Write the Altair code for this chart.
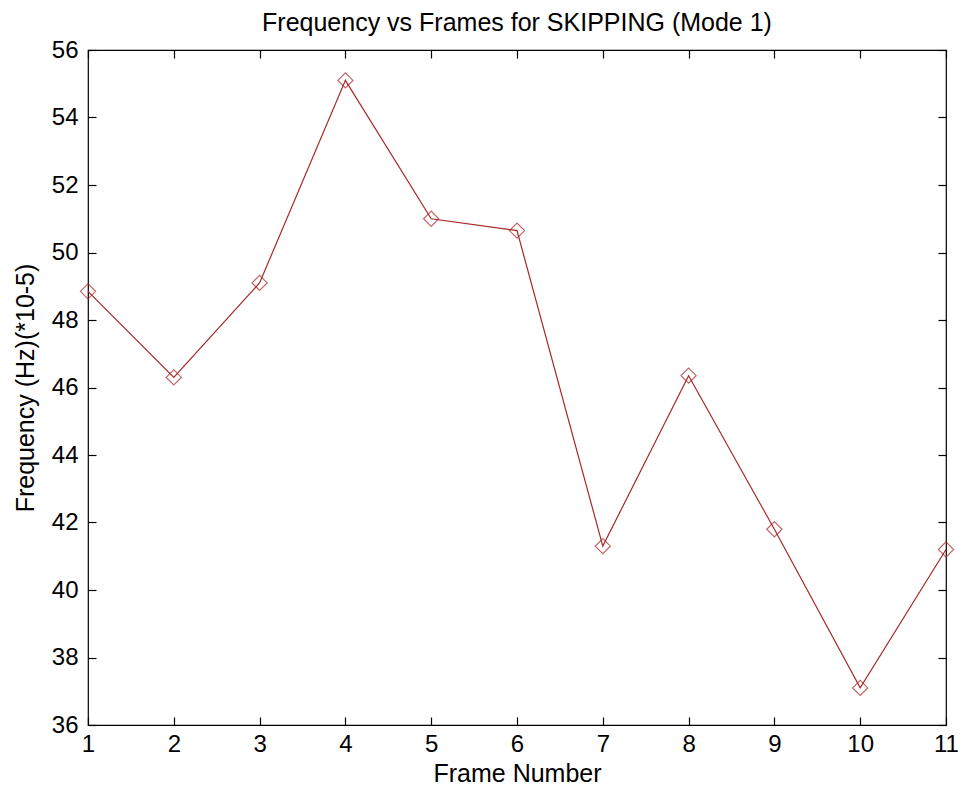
import altair as alt
import pandas as pd

frames = [1, 2, 3, 4, 5, 6, 7, 8, 9, 10, 11]
freq = [48.85, 46.3, 49.1, 55.1, 51.0, 50.65, 41.3, 46.35, 41.8, 37.1, 41.2]
y_ticks = [36, 38, 40, 42, 44, 46, 48, 50, 52, 54, 56]

df = pd.DataFrame({"frame": frames, "freq": freq})

FONT = "Liberation Sans"
LINE = "#a82828"
TICK = 8

xscale = alt.Scale(domain=[1, 11], nice=False, zero=False)
yscale = alt.Scale(domain=[36, 56], nice=False, zero=False)

base = alt.Chart(df)

common = dict(
    labelFont=FONT, labelFontSize=24, labelColor="black",
    titleFont=FONT, titleFontSize=25, titleFontWeight="normal", titleColor="black",
    tickColor="black", tickWidth=1.2, tickSize=TICK, offset=-TICK,
    domain=False, grid=False, labelFlush=False,
)

line = base.mark_line(color=LINE, strokeWidth=1.2).encode(
    x=alt.X("frame:Q", scale=xscale,
            axis=alt.Axis(orient="bottom", values=frames, title="Frame Number",
                          labelPadding=7, titlePadding=5, format="d", **common)),
    y=alt.Y("freq:Q", scale=yscale,
            axis=alt.Axis(orient="left", values=y_ticks, title="Frequency (Hz)(*10-5)",
                          labelPadding=10, titlePadding=13, format="d", **common)),
)

pts = base.mark_point(shape="diamond", filled=False, color=LINE, size=230,
                      strokeWidth=1.2).encode(
    x=alt.X("frame:Q", scale=xscale,
            axis=alt.Axis(orient="top", values=frames, title=None, labels=False, **common)),
    y=alt.Y("freq:Q", scale=yscale,
            axis=alt.Axis(orient="right", values=y_ticks, title=None, labels=False, **common)),
)

chart = (
    alt.layer(line, pts)
    .resolve_axis(x="independent", y="independent")
    .properties(
        width=858,
        height=675,
        background="white",
        autosize=alt.AutoSizeParams(type="none"),
        padding={"left": 80, "top": 42, "right": 12, "bottom": 64},
        title=alt.TitleParams(
            text="Frequency vs Frames for SKIPPING (Mode 1)",
            font=FONT, fontSize=25, fontWeight="normal", color="black",
            anchor="middle", offset=2,
        ),
    )
    .configure_view(stroke="black", strokeWidth=1.2)
)

chart.save("out.html", embed_options={"renderer": "svg", "actions": False})
